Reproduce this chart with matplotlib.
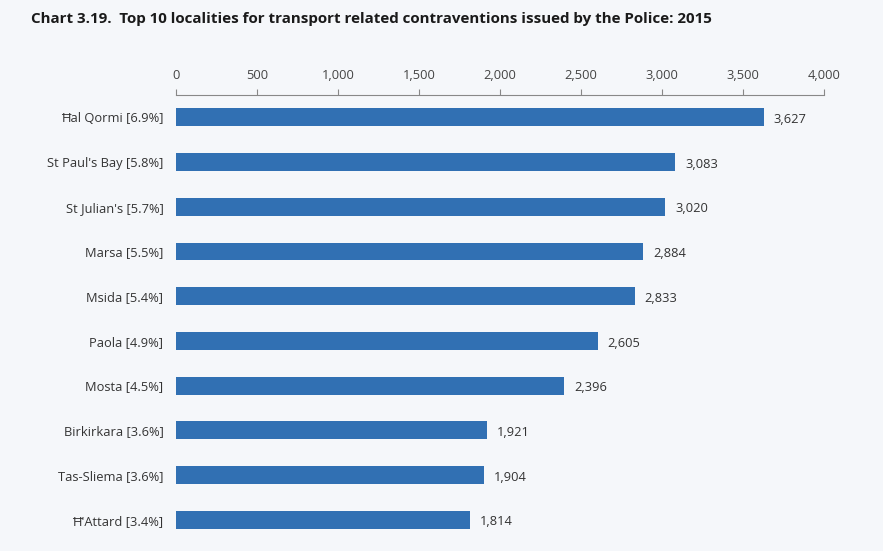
import matplotlib.pyplot as plt

# Data
localities = ["Ħal Qormi [6.9%]", "St Paul's Bay [5.8%]", "St Julian's [5.7%]",
              "Marsa [5.5%]", "Msida [5.4%]", "Paola [4.9%]", "Mosta [4.5%]",
              "Birkirkara [3.6%]", "Tas-Sliema [3.6%]", "Ħ'Attard [3.4%]"]
contraventions = [3627, 3083, 3020, 2884, 2833, 2605, 2396, 1921, 1904, 1814]
xticks = [0, 500, 1000, 1500, 2000, 2500, 3000, 3500, 4000]

plt.rcParams['font.family'] = ['Open Sans', 'DejaVu Sans']
bg = '#f5f7fa'

fig = plt.figure(figsize=(8.83, 5.51), dpi=100, facecolor=bg)
ax = fig.add_axes([0.1993, 0.0163, 0.7339, 0.8113], facecolor=bg)

ypos = list(range(len(localities)))
ax.barh(ypos, contraventions, height=0.4, color='#3170b3')
for y, v in zip(ypos, contraventions):
    ax.text(v + 60, y + 0.05, f"{v:,}", va='center', ha='left', fontsize=9.3, color='#333333')

ax.set_xlim(0, 4000)
ax.set_ylim(len(localities) - 0.5, -0.5)
ax.set_yticks(ypos)
ax.set_yticklabels(localities, fontsize=9.3, color='#333333')
ax.set_xticks(xticks)
ax.set_xticklabels([f"{t:,}" for t in xticks], fontsize=9.3, color='#444444')
ax.xaxis.tick_top()
ax.tick_params(axis='x', length=4, color='#888888', pad=5)
ax.tick_params(axis='y', length=0, pad=9)
for s in ['bottom', 'left', 'right']:
    ax.spines[s].set_visible(False)
ax.spines['top'].set_color('#888888')

fig.text(0.035, 0.965, "Chart 3.19.  Top 10 localities for transport related contraventions issued by the Police: 2015",
         fontsize=10.9, fontweight='bold', va='center', ha='left', color='#1a1a1a')

fig.savefig('out.png', dpi=100, facecolor=bg)
